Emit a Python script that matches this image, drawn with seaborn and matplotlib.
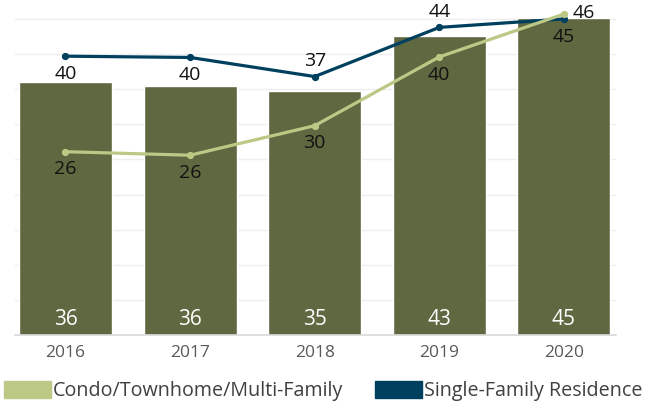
import matplotlib
matplotlib.use('Agg')
import matplotlib.pyplot as plt
import matplotlib.patches as mpatches
import seaborn as sns

years = ['2016', '2017', '2018', '2019', '2020']
bar_vals = [36.0, 35.5, 34.7, 42.6, 45.2]
single_family = [39.7, 39.52, 36.8, 43.8, 45.0]
condo = [26.1, 25.6, 29.8, 39.6, 45.7]

bar_color = '#5f6841'
condo_color = '#bcc986'
sfr_color = '#00405f'
text_grey = '#595959'

sns.set_style('white')
plt.rcParams['font.family'] = ['Open Sans', 'DejaVu Sans']

fig = plt.figure(figsize=(6.63, 4.08), dpi=100)
ax = fig.add_axes([15 / 663, 73 / 408, 601 / 663, 335 / 408])

sns.barplot(x=years, y=bar_vals, color=bar_color, width=0.746, saturation=1, ax=ax, zorder=2)
sns.pointplot(x=years, y=single_family, color=sfr_color, markers='o', markersize=3.5,
              linewidth=2.3, ax=ax, zorder=3)
sns.pointplot(x=years, y=condo, color=condo_color, markers='o', markersize=3.5,
              linewidth=2.3, ax=ax, zorder=4)

ax.set_xlim(-0.405, 4.418)
ax.set_ylim(0, 47.7)
ax.set_yticks(range(5, 50, 5))
ax.yaxis.grid(True, color='#eeeeee', linewidth=1)
ax.set_axisbelow(True)
for s in ['top', 'right', 'left']:
    ax.spines[s].set_visible(False)
ax.spines['bottom'].set_color('#d9d9d9')
ax.spines['bottom'].set_linewidth(1.2)
ax.tick_params(axis='y', left=False, labelleft=False)
ax.tick_params(axis='x', length=0, pad=7, labelsize=12.5, labelcolor=text_grey)
ax.set_xticks([0.5, 1.5, 2.5, 3.5], minor=True)
ax.tick_params(axis='x', which='minor', length=3, color='#e4e4e4')

# bar labels (white, near bottom)
for i, v in enumerate(bar_vals):
    ax.annotate(f'{v:.0f}', (i, 0), xytext=(0, 11.5), textcoords='offset points',
                ha='center', va='center', color='white', fontsize=15)

# single-family labels
sfr_off = [(0, -12.5), (0, -12.5), (0, 11), (0, 11), (0, -13)]
for i, v in enumerate(single_family):
    ax.annotate(f'{v:.0f}', (i, v), xytext=sfr_off[i], textcoords='offset points',
                ha='center', va='center', color='#111111', fontsize=14, zorder=5)

# condo labels
condo_off = [(0, -12.5), (0, -12.5), (0, -12.5), (0, -13), (14, 1)]
for i, v in enumerate(condo):
    ax.annotate(f'{v:.0f}', (i, v), xytext=condo_off[i], textcoords='offset points',
                ha='center', va='center', color='#111111', fontsize=14, zorder=5)

handles = [mpatches.Patch(color=condo_color, label='Condo/Townhome/Multi-Family'),
           mpatches.Patch(color=sfr_color, label='Single-Family Residence')]
fig.legend(handles=handles, loc='center left', bbox_to_anchor=(4 / 663, 1 - 391 / 408),
           ncol=2, frameon=False, fontsize=14.2, handlelength=2.4, handleheight=0.95,
           handletextpad=0.08, columnspacing=1.6, borderpad=0, borderaxespad=0,
           labelcolor='#404040')

fig.savefig('out.png', dpi=100)
